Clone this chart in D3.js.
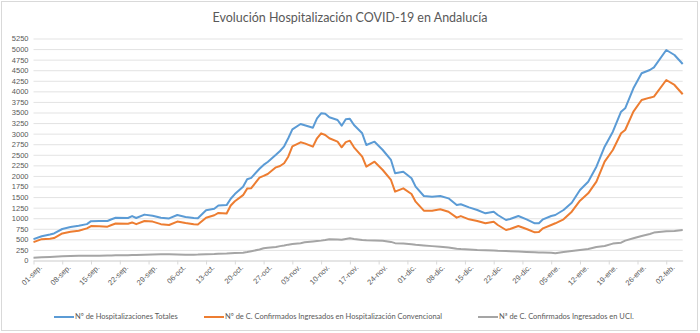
<!DOCTYPE html>
<html>
<head>
<meta charset="utf-8">
<script src="https://cdn.jsdelivr.net/npm/d3@7"></script>
<style>
  body { margin: 0; background: #fff; }
  svg { font-family: Lato, "Open Sans", sans-serif; }
</style>
</head>
<body>
<div id="chart"></div>
<script>
// daily hospital figures (2020-09-01 .. 2021-02-06)
const dates = [
  "2020-09-01","2020-09-03","2020-09-05","2020-09-06","2020-09-08","2020-09-10","2020-09-12","2020-09-14",
  "2020-09-15","2020-09-17","2020-09-19","2020-09-20","2020-09-21","2020-09-24","2020-09-25","2020-09-26",
  "2020-09-28","2020-09-30","2020-10-02","2020-10-04","2020-10-06","2020-10-08","2020-10-10","2020-10-11",
  "2020-10-13","2020-10-15","2020-10-16","2020-10-18","2020-10-19","2020-10-20","2020-10-22","2020-10-23",
  "2020-10-24","2020-10-26","2020-10-27","2020-10-28","2020-10-30","2020-10-31","2020-11-01","2020-11-02",
  "2020-11-03","2020-11-05","2020-11-06","2020-11-08","2020-11-09","2020-11-10","2020-11-11","2020-11-12",
  "2020-11-14","2020-11-15","2020-11-16","2020-11-17","2020-11-18","2020-11-20","2020-11-21","2020-11-23",
  "2020-11-25","2020-11-27","2020-11-28","2020-11-30","2020-12-02","2020-12-03","2020-12-05","2020-12-07",
  "2020-12-09","2020-12-11","2020-12-13","2020-12-14","2020-12-16","2020-12-18","2020-12-20","2020-12-22",
  "2020-12-23","2020-12-25","2020-12-26","2020-12-28","2020-12-30","2021-01-01","2021-01-02","2021-01-03",
  "2021-01-05","2021-01-06","2021-01-08","2021-01-10","2021-01-12","2021-01-14","2021-01-16","2021-01-18",
  "2021-01-20","2021-01-22","2021-01-23","2021-01-25","2021-01-27","2021-01-29","2021-01-30","2021-02-02",
  "2021-02-04","2021-02-06"
];
const totales = [
  505,575,615,640,745,790,820,860,
  930,935,935,975,1010,1005,1050,1005,
  1085,1060,1010,995,1075,1030,1005,1000,
  1190,1225,1300,1310,1460,1570,1746,1920,
  1955,2170,2260,2330,2500,2590,2700,2890,
  3100,3228,3200,3141,3363,3481,3470,3386,
  3323,3188,3339,3350,3205,3008,2732,2810,
  2613,2377,2062,2100,1944,1746,1525,1510,
  1525,1470,1313,1330,1257,1194,1115,1154,
  1076,958,981,1052,974,880,880,974,
  1052,1076,1194,1367,1667,1864,2219,2692,
  3047,3520,3599,4072,4427,4505,4569,4978,
  4860,4647
];
const convencional = [
  435,505,515,530,640,680,705,760,
  815,810,800,840,875,870,900,860,
  935,920,860,840,920,885,855,850,
  1010,1070,1125,1110,1300,1400,1545,1700,
  1710,1960,2000,2046,2203,2235,2300,2455,
  2700,2795,2770,2692,2890,3008,2968,2890,
  2810,2677,2800,2834,2677,2455,2219,2337,
  2140,1904,1628,1706,1573,1391,1178,1178,
  1210,1154,1013,1050,974,934,880,918,
  840,721,745,816,745,666,674,761,
  840,880,974,1154,1415,1589,1864,2337,
  2613,3008,3086,3520,3796,3851,3875,4269,
  4151,3931
];
const uci = [
  66,75,85,90,100,108,110,112,
  112,115,118,120,122,125,128,128,
  135,140,145,145,140,135,138,140,
  150,155,160,165,170,175,185,200,
  220,260,290,300,320,340,355,375,
  390,410,430,450,460,470,485,505,
  495,490,510,525,510,485,480,475,
  465,440,410,400,385,370,355,340,
  327,310,280,272,262,250,245,235,
  230,225,220,210,200,193,190,190,
  185,170,200,225,250,272,320,343,
  400,421,470,525,580,627,660,690,
  700,721
];
const yTicks = d3.range(0, 5251, 250);
const seriesNames = [
  "Nº de Hospitalizaciones Totales",
  "Nº de C. Confirmados Ingresados en Hospitalización Convencional",
  "Nª de C. Confirmados Ingresados en UCI."
];
const colors = ["#5B9BD5", "#ED7D31", "#A5A5A5"];

const W = 700, H = 333;
const plotL = 33.5, plotR = 682.7, plotT = 38.5, plotB = 260.5;

const parse = d3.timeParse("%Y-%m-%d");
const days = dates.map(parse);

const es = d3.timeFormatLocale({
  dateTime: "%x, %X", date: "%d/%m/%Y", time: "%H:%M:%S", periods: ["AM", "PM"],
  days: ["domingo","lunes","martes","miércoles","jueves","viernes","sábado"],
  shortDays: ["dom","lun","mar","mié","jue","vie","sáb"],
  months: ["enero","febrero","marzo","abril","mayo","junio","julio","agosto","septiembre","octubre","noviembre","diciembre"],
  shortMonths: ["ene","feb","mar","abr","may","jun","jul","ago","sep","oct","nov","dic"]
});
const fmt = es.format("%d-%b.");

const svg = d3.select("#chart").append("svg")
  .attr("width", W).attr("height", H);

svg.append("rect")
  .attr("x", 1.5).attr("y", 1.5).attr("width", W - 4).attr("height", H - 4)
  .attr("fill", "#fff").attr("stroke", "#d9d9d9");

const x = d3.scaleTime()
  .domain([days[0], days[days.length - 1]])
  .range([plotL, plotR]);
const y = d3.scaleLinear().domain([0, 5250]).range([plotB, plotT]);

// gridlines + y labels
const gy = svg.append("g")
  .attr("transform", "translate(" + plotL + ",0)")
  .call(d3.axisLeft(y).tickValues(yTicks).tickSize(-(plotR - plotL)).tickPadding(5).tickFormat(d3.format("d")));
gy.select(".domain").remove();
gy.selectAll(".tick line").attr("stroke", "#d9d9d9").attr("stroke-width", 0.75);
gy.selectAll(".tick text").attr("fill", "#595959").style("font-size", "7.5px");

// x axis, one tick per week counted from the first day
const xTicks = d3.range(0, 155, 7).map(k => d3.timeDay.offset(days[0], k));
const gx = svg.append("g")
  .attr("transform", "translate(0," + plotB + ")")
  .call(d3.axisBottom(x).tickValues(xTicks).tickSize(4).tickFormat(fmt).tickSizeOuter(0));
gx.select(".domain").attr("stroke", "#d9d9d9");
gx.selectAll(".tick line").attr("stroke", "#d9d9d9");
gx.selectAll(".tick text")
  .attr("fill", "#595959").style("font-size", "7.5px")
  .attr("text-anchor", "end")
  .attr("transform", "translate(3,2) rotate(-45)")
  .attr("dy", "0.5em").attr("y", 4).attr("x", 0);

const line = d3.line()
  .x((d, i) => x(days[i]))
  .y(d => y(d));

[totales, convencional, uci].forEach((s, k) => {
  svg.append("path")
    .datum(s)
    .attr("fill", "none")
    .attr("stroke", colors[k])
    .attr("stroke-width", 2)
    .attr("stroke-linejoin", "round")
    .attr("d", line);
});

svg.append("text")
  .attr("x", W / 2).attr("y", 22)
  .attr("text-anchor", "middle")
  .attr("fill", "#595959")
  .style("font-size", "12.5px")
  .text("Evolución Hospitalización COVID-19 en Andalucía");

// legend
const legX = [54, 204, 478];
const leg = svg.selectAll(".leg").data(seriesNames).enter().append("g")
  .attr("transform", (d, i) => "translate(" + legX[i] + ",317)");
leg.append("line")
  .attr("x1", 0).attr("x2", 20)
  .attr("stroke", (d, i) => colors[i]).attr("stroke-width", 2);
leg.append("text")
  .attr("x", 21).attr("dy", "0.33em")
  .attr("fill", "#595959").style("font-size", "7.5px")
  .text(d => d);
</script>
</body>
</html>
